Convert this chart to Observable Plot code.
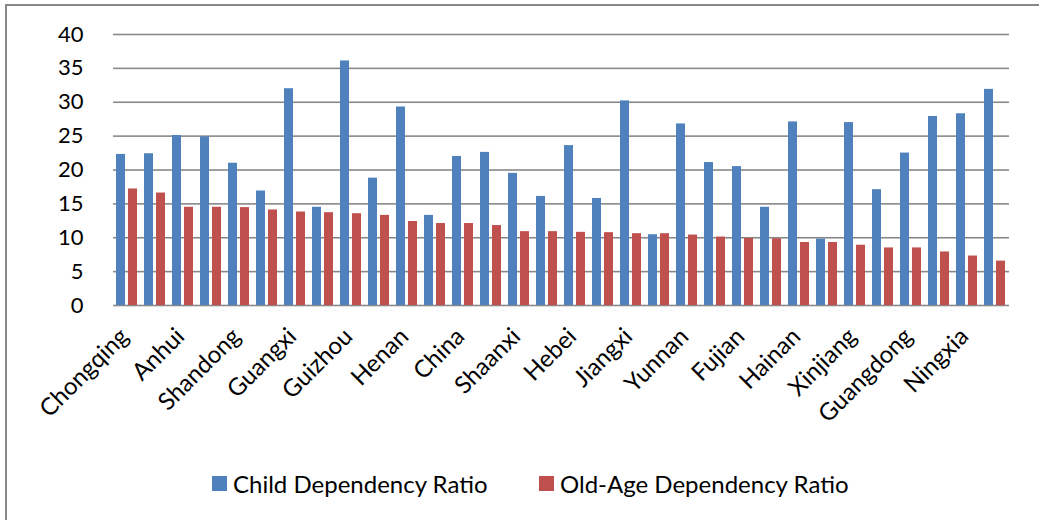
<!DOCTYPE html>
<html>
<head>
<meta charset="utf-8">
<script src="https://cdn.jsdelivr.net/npm/d3@7"></script>
<script src="https://cdn.jsdelivr.net/npm/@observablehq/plot@0.6"></script>
<style>
  html, body { margin: 0; padding: 0; background: #fff; }
  #wrap { position: relative; width: 1039px; height: 520px; overflow: hidden; font-family: Lato, sans-serif; }
  #frame { position: absolute; left: 5px; top: 4px; width: 1040px; height: 520px; border-top: 2px solid #888; border-left: 2px solid #888; box-sizing: border-box; }
  #chart { position: absolute; left: 0; top: 0; }
  .leg { position: absolute; top: 469px; font-size: 24px; color: #000; display: flex; align-items: center; white-space: nowrap; }
  .sw { width: 15px; height: 15px; margin-right: 6px; }
</style>
</head>
<body>
<div id="wrap">
  <div id="frame"></div>
  <div id="chart"></div>
  <div class="leg" style="left:212px"><span class="sw" style="background:#4F81BD"></span>Child Dependency Ratio</div>
  <div class="leg" style="left:539px"><span class="sw" style="background:#C0504D"></span>Old-Age Dependency Ratio</div>
</div>
<script>
const categories = ["Chongqing","Sichuan","Anhui","Hunan","Shandong","Jiangsu","Guangxi","Liaoning","Guizhou","Hubei","Henan","Zhejiang","China","Gansu","Shaanxi","Jilin","Hebei","Heilongjiang","Jiangxi","Beijing","Yunnan","Shanxi","Fujian","Tianjin","Hainan","Shanghai","Xinjiang","Inner Mongolia","Guangdong","Qinghai","Ningxia","Tibet"];
const childRatio = [22.3,22.4,25.1,24.9,21.0,16.9,32.0,14.5,36.1,18.8,29.3,13.3,22.0,22.6,19.5,16.1,23.6,15.8,30.2,10.45,26.8,21.1,20.5,14.5,27.1,9.8,27.0,17.1,22.5,27.9,28.3,31.9];
const oldAgeRatio = [17.2,16.6,14.5,14.5,14.45,14.1,13.8,13.7,13.55,13.3,12.4,12.1,12.1,11.8,10.9,10.9,10.8,10.75,10.6,10.6,10.4,10.1,9.9,9.85,9.3,9.3,8.9,8.5,8.5,7.9,7.3,6.55];
const seriesNames = ["Child Dependency Ratio","Old-Age Dependency Ratio"];
const seriesColors = ["#4F81BD","#C0504D"];
const yTicks = [0,5,10,15,20,25,30,35,40];
const labelledCategories = categories.filter((d, i) => i % 2 === 0);

const data = [];
categories.forEach((c, i) => {
  data.push({cat: c, series: seriesNames[0], value: childRatio[i]});
  data.push({cat: c, series: seriesNames[1], value: oldAgeRatio[i]});
});

const plot = Plot.plot({
  width: 1039,
  height: 450,
  marginLeft: 110,
  marginRight: 27,
  marginTop: 34,
  marginBottom: 145,
  style: {fontFamily: "Lato, sans-serif", color: "#000", background: "transparent"},
  fx: {domain: categories, paddingInner: 0, paddingOuter: 0, label: null},
  x: {domain: seriesNames, paddingInner: 0.22, paddingOuter: 0.265, axis: null},
  y: {domain: [0, 40], label: null},
  color: {domain: seriesNames, range: seriesColors},
  marks: [
    Plot.ruleY(yTicks, {stroke: "#888", strokeWidth: 1.6}),
    Plot.barY(data, {fx: "cat", x: "series", y: "value", fill: "series"}),
    Plot.axisY({ticks: yTicks, tickSize: 0, tickPadding: 30, fontSize: 22, label: null}),
    Plot.axisFx({ticks: labelledCategories, anchor: "bottom", tickSize: 0, tickPadding: 27, dx: -3, tickRotate: -45, fontSize: 24, label: null})
  ]
});
document.getElementById("chart").appendChild(plot);
</script>
</body>
</html>
